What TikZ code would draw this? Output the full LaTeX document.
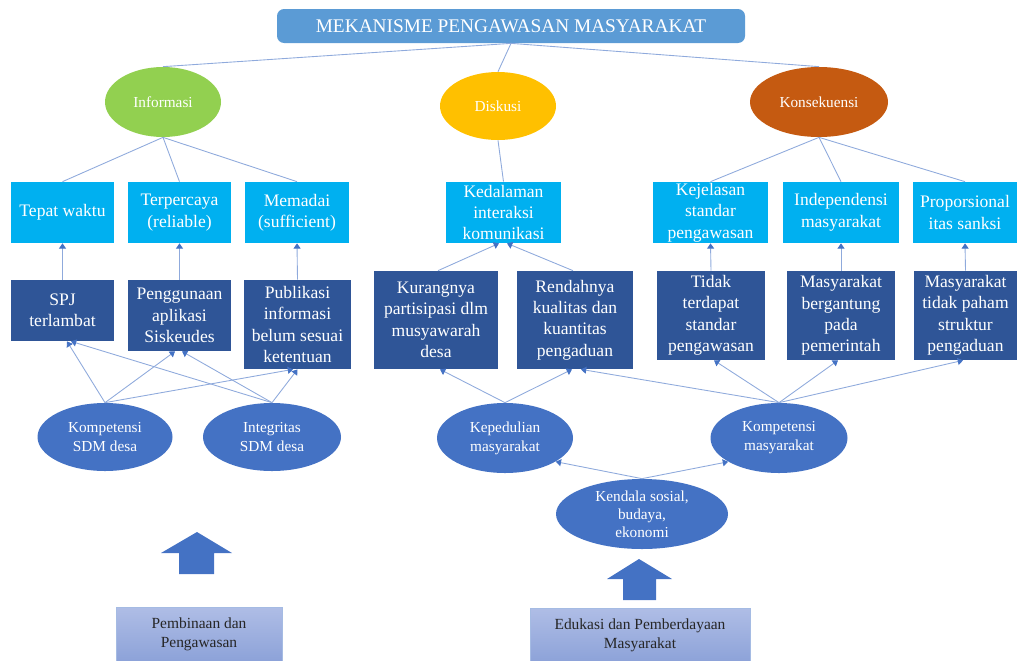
\documentclass[tikz,border=0pt]{standalone}
\usepackage{fontspec}
\setmainfont{Liberation Serif}
\usetikzlibrary{shapes.geometric,arrows.meta}
\definecolor{titlec}{HTML}{5B9BD5}
\definecolor{greenc}{HTML}{92D050}
\definecolor{yellowc}{HTML}{FFC000}
\definecolor{orangec}{HTML}{C55A11}
\definecolor{lightc}{HTML}{00B0F0}
\definecolor{darkc}{HTML}{2F5597}
\definecolor{ellc}{HTML}{4472C4}
\definecolor{linec}{HTML}{8FAADC}
\definecolor{arrc}{HTML}{4472C4}
\definecolor{bottop}{HTML}{AFBDE6}
\definecolor{botbot}{HTML}{8CA2D8}
\begin{document}
\begin{tikzpicture}[x=0.02cm,y=-0.02cm,
 sz/.style 2 args={minimum width=#1*0.02cm,minimum height=#2*0.02cm},
 box/.style={rectangle,inner sep=0pt,align=center,text=white,font=\fontsize{10}{12.2}\selectfont},
 lbox/.style={box,fill=lightc},
 dbox/.style={box,fill=darkc},
 topell/.style={ellipse,inner sep=0pt,align=center,text=white,font=\fontsize{8.7}{10.5}\selectfont},
 lowell/.style={ellipse,inner sep=0pt,fill=ellc,align=center,text=white,font=\fontsize{8.7}{10.8}\selectfont},
 conn/.style={draw=linec,line width=0.5pt},
 arr/.style={conn,-{Triangle[length=3pt,width=4pt,color=arrc]}},
 bbox/.style={rectangle,inner sep=0pt,align=center,text=black!85,top color=bottop,bottom color=botbot,draw=linec!80,line width=0.4pt,font=\fontsize{8.8}{10.6}\selectfont},
 blockarrow/.style={fill=ellc}
]
\useasboundingbox (0,0) rectangle (1017,660);

% title
\node[rectangle,rounded corners=4pt,fill=titlec,sz={468}{34},text=white,inner sep=0pt,font=\fontsize{11}{13}\selectfont] (title) at (511,26) {MEKANISME PENGAWASAN MASYARAKAT};

% top ellipses
\node[topell,fill=greenc,sz={116}{70}] (info) at (163,102) {Informasi};
\node[topell,fill=yellowc,sz={116}{68}] (disk) at (498,106) {Diskusi};
\node[topell,fill=orangec,sz={138}{70}] (kons) at (819,102) {Konsekuensi};

% light boxes
\node[lbox,sz={103}{61}] (tepat) at (62.5,212.5) {Tepat waktu};
\node[lbox,sz={103}{61}] (terp) at (179.5,212.5) {Terpercaya\\(reliable)};
\node[lbox,sz={104}{61}] (memadai) at (297,212.5) {Memadai\\(sufficient)};
\node[lbox,sz={115}{61}] (kedal) at (503.5,212.5) {Kedalaman\\interaksi\\komunikasi};
\node[lbox,sz={115}{61}] (kejel) at (710.5,212.5) {Kejelasan\\standar\\pengawasan};
\node[lbox,sz={116}{61}] (indep) at (841,212.5) {Independensi\\masyarakat};
\node[lbox,sz={104}{61}] (propor) at (965,212.5) {Proporsional\\itas sanksi};

% dark boxes
\node[dbox,sz={103}{61}] (spj) at (62.5,310.5) {SPJ\\terlambat};
\node[dbox,sz={103}{71}] (peng) at (179.5,315.5) {Penggunaan\\aplikasi\\Siskeudes};
\node[dbox,sz={107}{89}] (publ) at (297.5,324.5) {Publikasi\\informasi\\belum sesuai\\ketentuan};
\node[dbox,sz={124}{98}] (kurang) at (436,320) {Kurangnya\\partisipasi dlm\\musyawarah\\desa};
\node[dbox,sz={116}{98}] (rendah) at (575,320) {Rendahnya\\kualitas dan\\kuantitas\\pengaduan};
\node[dbox,sz={108}{89}] (tidak) at (711,315.5) {Tidak\\terdapat\\standar\\pengawasan};
\node[dbox,sz={108}{89}] (berg) at (841,315.5) {Masyarakat\\bergantung\\pada\\pemerintah};
\node[dbox,sz={103}{89}] (paham) at (965.5,315.5) {Masyarakat\\tidak paham\\struktur\\pengaduan};

% lower ellipses
\node[lowell,sz={135}{68}] (kompsdm) at (105,437) {Kompetensi\\SDM desa};
\node[lowell,sz={138}{68}] (integ) at (272,437) {Integritas\\SDM desa};
\node[lowell,sz={136}{70}] (kepd) at (505,438) {Kepedulian\\masyarakat};
\node[lowell,sz={137}{70}] (kompm) at (779,438) {Kompetensi\\masyarakat};
\node[lowell,sz={172}{70},inner sep=-5pt,font=\fontsize{8.7}{10.3}\selectfont] (kendala) at (642,514) {Kendala sosial,\\budaya,\\ekonomi};

% bottom boxes
\node[bbox,sz={166}{55}] (pemb) at (199,634.5) {Pembinaan dan\\Pengawasan};
\node[bbox,sz={220}{55}] (eduk) at (640,635.5) {Edukasi dan Pemberdayaan\\Masyarakat};

% block arrows
\fill[blockarrow] (179,574) -- (179,553) -- (161,553) -- (197,532) -- (232,553) -- (214,553) -- (214,574) -- cycle;
\fill[blockarrow] (623,600) -- (623,579) -- (607,579) -- (639,559) -- (672,579) -- (656,579) -- (656,600) -- cycle;

% title to ellipses
\draw[conn] (title.south) -- (info.north);
\draw[conn] (title.south) -- (disk.north);
\draw[conn] (title.south) -- (kons.north);

% ellipses to light boxes
\draw[conn] (info.south) -- (tepat.north);
\draw[conn] (info.south) -- (terp.north);
\draw[conn] (info.south) -- (memadai.north);
\draw[conn] (disk.south) -- (kedal.north);
\draw[conn] (kons.south) -- (kejel.north);
\draw[conn] (kons.south) -- (indep.north);
\draw[conn] (kons.south) -- (propor.north);

% dark boxes to light boxes
\draw[arr] (spj.north) -- (tepat.south);
\draw[arr] (peng.north) -- (terp.south);
\draw[arr] (publ.north) -- (memadai.south);
\draw[arr] ([xshift=0.04cm]kurang.north) -- ([xshift=-0.09cm]kedal.south);
\draw[arr] ([xshift=-0.04cm]rendah.north) -- ([xshift=0.07cm]kedal.south);
\draw[arr] (tidak.north) -- (kejel.south);
\draw[arr] (berg.north) -- (indep.south);
\draw[arr] (paham.north) -- (propor.south);

% lower ellipses to dark boxes
\draw[arr] (kompsdm.north) -- ([xshift=0.09cm]spj.south);
\draw[arr] (kompsdm.north) -- ([xshift=-0.09cm]peng.south);
\draw[arr] (kompsdm.north) -- ([xshift=-0.09cm]publ.south);
\draw[arr] (integ.north) -- ([xshift=0.17cm]spj.south);
\draw[arr] (integ.north) -- ([xshift=0.05cm]peng.south);
\draw[arr] (integ.north) -- (publ.south);
\draw[arr] (kepd.north) -- ([xshift=0.08cm]kurang.south);
\draw[arr] (kepd.north) -- ([xshift=-0.06cm]rendah.south);
\draw[arr] (kompm.north) -- ([xshift=0.12cm]rendah.south);
\draw[arr] (kompm.north) -- ([xshift=0.06cm]tidak.south);
\draw[arr] (kompm.north) -- ([xshift=-0.06cm]berg.south);
\draw[arr] (kompm.north) -- ([xshift=-0.05cm]paham.south);

% kendala to ellipses
\draw[arr] (kendala.north) -- (kepd.-25);
\draw[arr] (kendala.north) -- (kompm.205);
\end{tikzpicture}
\end{document}
